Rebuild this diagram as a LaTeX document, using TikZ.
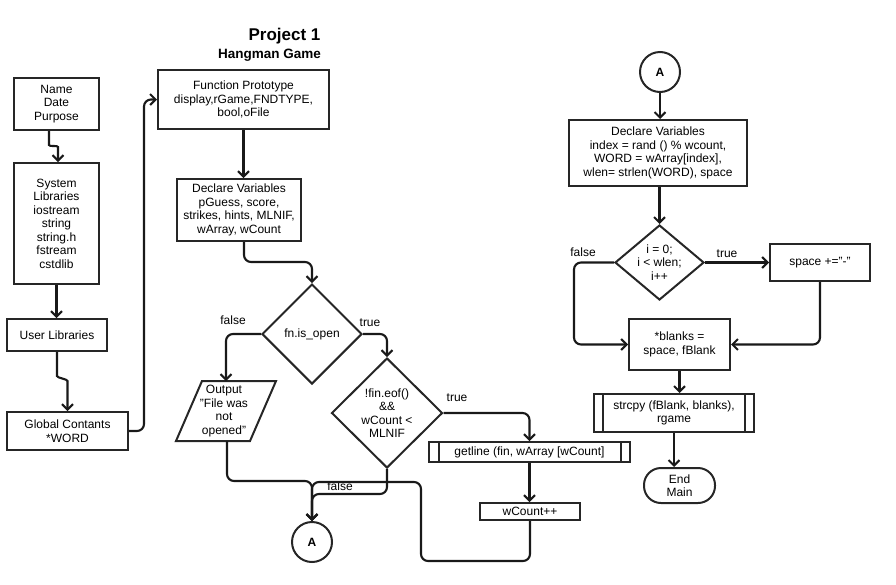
\documentclass[tikz,border=0pt]{standalone}
\usepackage{fontspec}
\setmainfont{Liberation Sans}
\usetikzlibrary{arrows.meta,shapes.geometric}
\begin{document}
\begin{tikzpicture}[x=1pt,y=-1pt,
  every node/.style={font=\fontsize{12}{13.5}\selectfont, align=center},
  shp/.style={draw=black!85, line width=2pt},
  box/.style={shp, rectangle, inner sep=1pt},
  dia/.style={shp, diamond, inner sep=0pt},
  txt/.style={inner sep=0pt},
  conn/.style={draw=black!90, line width=2.1pt, rounded corners=7pt},
  arr/.style={conn, -{Straight Barb[length=5.5pt,width=11pt,line width=2pt]}},
  circ/.style={shp, circle, minimum size=40pt, inner sep=0pt, font=\bfseries\fontsize{12}{14}\selectfont},
  lbl/.style={inner sep=0pt}
]
\useasboundingbox (0,0) rectangle (896,584);

% titles
\node[txt, font=\bfseries\fontsize{17}{20}\selectfont] (title) at (284.5,36) {Project 1};
\node[txt, font=\bfseries\fontsize{13.5}{16}\selectfont] (subtitle) at (269.5,55) {Hangman Game};

% left column
\node[box, minimum width=85pt, minimum height=52pt] (name) at (56.5,104) {Name\\Date\\Purpose};
\node[box, minimum width=85pt, minimum height=121pt] (sys) at (56.5,223.5) {System\\Libraries\\iostream\\string\\string.h\\fstream\\cstdlib};
\node[box, minimum width=100pt, minimum height=32pt] (user) at (57,335) {User Libraries};
\node[box, minimum width=121pt, minimum height=38pt] (global) at (67.5,431) {Global Contants\\*WORD};

% middle column
\node[box, minimum width=171pt, minimum height=59pt] (func) at (243.5,99.5) {Function Prototype\\display,rGame,FNDTYPE,\\bool,oFile};
\node[box, minimum width=124pt, minimum height=62pt] (decl1) at (239,210) {Declare Variables\\pGuess, score,\\strikes, hints, MLNIF,\\wArray, wCount};

\node[dia, minimum width=100pt, minimum height=100pt] (d1) at (312,334) {};
\node[txt] (d1t) at (312,334) {fn.is\_open};

\coordinate (pBL) at (176,441);
\coordinate (pBR) at (250,441);
\coordinate (pTR) at (276,381);
\coordinate (pTL) at (202,381);
\draw[shp, line join=miter] (pBL) -- (pBR) -- (pTR) -- (pTL) -- cycle;
\node[txt] (outp) at (224,411) {Output\\"File was\\not\\opened"};
\coordinate (pIn) at (226,381);
\coordinate (pOut) at (227,441);

\node[dia, minimum width=111pt, minimum height=110pt] (d2) at (387,413) {};
\node[txt] (d2t) at (387,413) {!fin.eof()\\\&\&\\wCount <\\MLNIF};

\node[box, minimum width=201pt, minimum height=20pt, inner sep=0pt] (getl) at (529.5,452) {getline (fin, wArray [wCount]};
\draw[shp] ([xshift=11pt]getl.north west) -- ([xshift=11pt]getl.south west);
\draw[shp] ([xshift=-10pt]getl.north east) -- ([xshift=-10pt]getl.south east);
\node[box, minimum width=100pt, minimum height=17pt, inner sep=0pt] (wc) at (530,511.5) {wCount++};

\node[circ] (Abot) at (312,542) {A};

% right column
\node[circ] (Atop) at (660,72) {A};
\node[box, minimum width=178pt, minimum height=66pt] (decl2) at (658,153) {Declare Variables\\index = rand () \% wcount,\\WORD = wArray[index],\\wlen= strlen(WORD), space};
\node[dia, minimum width=89pt, minimum height=75pt] (d3) at (659.5,262.5) {};
\node[txt] (d3t) at (659.5,262.5) {i = 0;\\i < wlen;\\i++};
\node[box, minimum width=100pt, minimum height=37pt] (space) at (820,262.5) {space +="-"};
\node[box, minimum width=101pt, minimum height=51pt] (blanks) at (679.5,344.5) {*blanks =\\space, fBlank};
\node[box, minimum width=160pt, minimum height=38pt, inner sep=0pt] (strc) at (674,413) {strcpy (fBlank, blanks),\\rgame};
\draw[shp] ([xshift=10pt]strc.north west) -- ([xshift=10pt]strc.south west);
\draw[shp] ([xshift=-10pt]strc.north east) -- ([xshift=-10pt]strc.south east);
\node[shp, rectangle, rounded corners=17pt, minimum width=71pt, minimum height=35pt, inner sep=0pt] (endm) at (679.5,485.5) {End\\Main};

% labels
\node[lbl] (l1) at (233,320) {false};
\node[lbl] (l2) at (370,323) {true};
\node[lbl] (l3) at (457,398) {true};
\node[lbl] (l4) at (340,486) {false};
\node[lbl] (l5) at (583,252) {false};
\node[lbl] (l6) at (727,254) {true};

% connectors left
\draw[arr] ([xshift=-7.5pt]name.south) -- ++(0,7) .. controls +(0,9) and +(0,-9) .. ++(9,16) -- ([xshift=1.5pt]sys.north);
\draw[arr] (sys.south) -- (sys.south |- user.north);
\draw[arr] (user.south) -- ++(0,17) .. controls +(0,9) and +(0,-9) .. ++(10.5,19) -- (global.north);
\draw[arr] (global.east) -- ++(15,0) |- (func.west);

% connectors middle
\draw[arr] (func.south) -- (func.south |- decl1.north);
\draw[arr] ([xshift=5pt]decl1.south) -- ++(0,20) -| (d1.north);
\draw[arr] (d1.west) -| (pIn);
\draw[arr] (d1.east) -| (d2.north);
\draw[arr] (d2.east) -| (getl.north);
\draw[arr] (getl.south) -- (getl.south |- wc.north);
\draw[arr] (wc.south) -- ++(0,40) -- ++(-109,0) -- ++(0,-79) -| (Abot.north);
\draw[arr] (pOut) -- ++(0,40) -| (Abot.north);
\draw[arr] (d2.south) -- ++(0,25) -| (Abot.north);

% connectors right
\draw[arr] (Atop.south) -- (Atop.south |- decl2.north);
\draw[arr] (d3.north |- decl2.south) -- (d3.north);
\draw[arr] (d3.east) -- (space.west);
\draw[arr] (d3.west) -- ++(-40,0) |- (blanks.west);
\draw[arr] (space.south) |- (blanks.east);
\draw[arr] (blanks.south) -- (blanks.south |- strc.north);
\draw[arr] (strc.south) -- (strc.south |- endm.north);
\end{tikzpicture}
\end{document}
